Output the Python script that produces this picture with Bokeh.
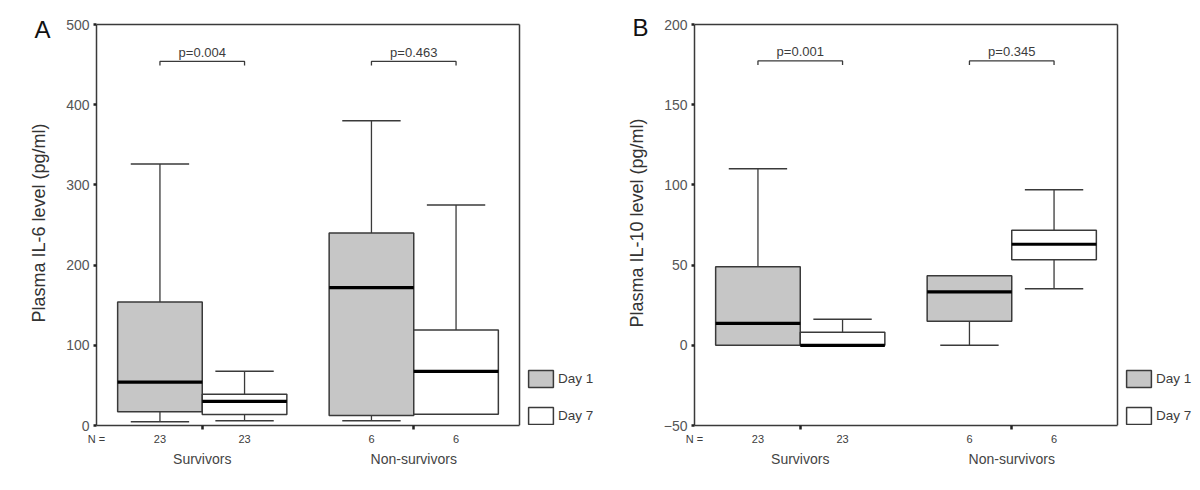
from bokeh.plotting import figure
from bokeh.layouts import row
from bokeh.models import Range1d, FixedTicker, Legend, LegendItem, LinearAxis
from bokeh.core.properties import value
from bokeh.embed import file_html
from bokeh.resources import INLINE

# ---------------- data ----------------
groups = ["Survivors", "Non-survivors"]
days = ["Day 1", "Day 7"]
n_day1 = [23, 6]
n_day7 = [23, 6]

# Panel A: Plasma IL-6 (pg/ml)  [Survivors, Non-survivors]
il6_d1_min = [4.6, 5.8]
il6_d1_q1 = [17, 12.4]
il6_d1_med = [54, 172]
il6_d1_q3 = [154, 240]
il6_d1_max = [326, 380]

il6_d7_min = [5.8, 14]
il6_d7_q1 = [13.7, 14]
il6_d7_med = [30, 67.5]
il6_d7_q3 = [39, 119]
il6_d7_max = [67.5, 275]

il6_pvalues = ["p=0.004", "p=0.463"]
il6_ticks = [0, 100, 200, 300, 400, 500]

# Panel B: Plasma IL-10 (pg/ml)
il10_d1_min = [0, 0]
il10_d1_q1 = [0, 15]
il10_d1_med = [13.7, 33.3]
il10_d1_q3 = [49, 43.3]
il10_d1_max = [110, 43.3]

il10_d7_min = [0, 35.2]
il10_d7_q1 = [0, 53.4]
il10_d7_med = [0, 63]
il10_d7_q3 = [8.1, 71.7]
il10_d7_max = [16.2, 97]

il10_pvalues = ["p=0.001", "p=0.345"]
il10_ticks = [-50, 0, 50, 100, 150, 200]

# ---------------- style ----------------
FONT = "Liberation Sans"
TEXT = "#3c3c3c"
LINE = "#3a3a3a"
GRAY = "#c6c6c6"
H = 480
BOX_W = 423.0     # px width of the boxed plot area
BOX_TOP = 24      # px
BOX_BOTTOM = 425  # px
HEAD = 4.0        # px of headroom above the box so its top line is not clipped


def panel(letter, title_standoff, letter_offset, ylabel, yr, yticks, d1, d7, pvals, bracket_y,
          width, bl, n1, n7):
    box_h = BOX_BOTTOM - BOX_TOP
    ypu = box_h / float(yr[1] - yr[0])
    xpu = BOX_W / 5.0
    x_end = (width - bl) / xpu
    bt = int(round(BOX_TOP - HEAD))
    bb = H - BOX_BOTTOM
    p = figure(width=width, height=H, x_range=Range1d(0, x_end),
               y_range=Range1d(yr[0], yr[1] + HEAD / ypu),
               output_backend="svg", toolbar_location=None,
               min_border_left=bl, min_border_right=0, min_border_top=bt, min_border_bottom=bb)

    p.xgrid.visible = False
    p.ygrid.visible = False
    p.outline_line_color = None
    p.background_fill_color = "white"
    p.border_fill_color = "white"

    # box frame (top and right edges)
    p.segment(x0=[0, 5], y0=[yr[1], yr[0]], x1=[5, 5], y1=[yr[1], yr[1]],
              line_color=LINE, line_width=1.5)

    # box positions from categories
    centers = [gi * 2.5 + 1.25 for gi in range(len(groups))]
    pos1 = [c - 0.5 for c in centers]
    pos7 = [c + 0.5 for c in centers]

    renderers = {}
    for pos, (mn, q1, med, q3, mx), fill, key in [(pos1, d1, GRAY, "d1"), (pos7, d7, "white", "d7")]:
        p.segment(x0=pos, y0=q3, x1=pos, y1=mx, line_color=LINE, line_width=1.3)
        p.segment(x0=pos, y0=q1, x1=pos, y1=mn, line_color=LINE, line_width=1.3)
        cap = 0.345
        p.segment(x0=[x - cap for x in pos], y0=mx, x1=[x + cap for x in pos], y1=mx,
                  line_color=LINE, line_width=1.5)
        p.segment(x0=[x - cap for x in pos], y0=mn, x1=[x + cap for x in pos], y1=mn,
                  line_color=LINE, line_width=1.5)
        r = p.vbar(x=pos, width=1.0, bottom=q1, top=q3, fill_color=fill,
                   line_color=LINE, line_width=1.5)
        renderers[key] = r
        p.segment(x0=[x - 0.5 for x in pos], y0=med, x1=[x + 0.5 for x in pos], y1=med,
                  line_color="black", line_width=3.2)

    # p-value brackets
    d = 4.0 / ypu
    xs = [[a, a, b, b] for a, b in zip(pos1, pos7)]
    ys = [[bracket_y - d, bracket_y, bracket_y, bracket_y - d] for _ in centers]
    p.multi_line(xs=xs, ys=ys, line_color=LINE, line_width=1.3)
    p.text(x=centers, y=[bracket_y + 9.0 / ypu] * len(centers), text=pvals,
           text_align="center", text_baseline="middle", text_font_size="13px",
           text_color=TEXT, text_font=value(FONT))

    # y axis
    yax = p.yaxis[0]
    yax.ticker = FixedTicker(ticks=yticks)
    yax.bounds = (yr[0], yr[1])
    yax.axis_line_color = LINE
    yax.axis_line_width = 1.5
    yax.major_tick_out = 3
    yax.major_tick_in = 0
    yax.major_tick_line_width = 2.5
    yax.major_tick_line_color = "#222"
    yax.minor_tick_out = 0
    yax.minor_tick_in = 0
    yax.major_label_standoff = 4
    yax.major_label_text_font = FONT
    yax.major_label_text_font_size = "14px"
    yax.major_label_text_color = "#555555"
    yax.axis_label = ylabel
    yax.axis_label_text_font = FONT
    yax.axis_label_text_font_size = "18px"
    yax.axis_label_text_font_style = "normal"
    yax.axis_label_text_color = "#333333"
    yax.axis_label_standoff = 14

    # x axis 1: N counts (major ticks, hidden marks) + group dividers (minor ticks)
    all_pos = [0] + pos1 + pos7
    all_lab = ["N ="] + [str(n) for n in n1] + [str(n) for n in n7]
    xax = p.xaxis[0]
    xax.ticker = FixedTicker(ticks=all_pos, minor_ticks=centers)
    xax.bounds = (0, 5)
    xax.major_label_overrides = {x: t for x, t in zip(all_pos, all_lab)}
    xax.axis_line_color = LINE
    xax.axis_line_width = 1.5
    xax.major_tick_out = 0
    xax.major_tick_in = 0
    xax.minor_tick_out = 4
    xax.minor_tick_in = 0
    xax.minor_tick_line_width = 2.5
    xax.minor_tick_line_color = "#222"
    xax.major_label_standoff = 3
    xax.major_label_text_font = FONT
    xax.major_label_text_font_size = "11px"
    xax.major_label_text_color = TEXT

    # x axis 2: group names
    gax = LinearAxis(ticker=FixedTicker(ticks=centers),
                     major_label_overrides={c: g for c, g in zip(centers, groups)})
    gax.axis_line_color = None
    gax.major_tick_out = 0
    gax.major_tick_in = 0
    gax.minor_tick_out = 0
    gax.minor_tick_in = 0
    gax.major_label_standoff = 3
    gax.major_label_text_font = FONT
    gax.major_label_text_font_size = "14px"
    gax.major_label_text_color = "#444444"
    p.add_layout(gax, "below")

    # panel letter (title, shifted to the left of the frame)
    p.title.text = letter
    p.title.align = "left"
    p.title.offset = letter_offset
    p.title.standoff = title_standoff
    p.title.text_font = FONT
    p.title.text_font_size = "24px"
    p.title.text_font_style = "normal"
    p.title.text_color = "#111111"

    # legend to the right of the box
    legend = Legend(items=[LegendItem(label=days[0], renderers=[renderers["d1"]]),
                           LegendItem(label=days[1], renderers=[renderers["d7"]])],
                    location=(BOX_W + 6, -1), glyph_width=31, glyph_height=21, label_height=21,
                    spacing=16, padding=0, margin=0, border_line_color=None,
                    background_fill_alpha=0, label_standoff=2,
                    label_text_font=FONT, label_text_font_size="13.5px", label_text_color=TEXT)
    p.add_layout(legend)
    return p


pA = panel("A", -44, -62, "Plasma IL-6 level (pg/ml)", (0, 500), il6_ticks,
           (il6_d1_min, il6_d1_q1, il6_d1_med, il6_d1_q3, il6_d1_max),
           (il6_d7_min, il6_d7_q1, il6_d7_med, il6_d7_q3, il6_d7_max),
           il6_pvalues, 454, 598, 96, n_day1, n_day7)
pB = panel("B", -40, -62, "Plasma IL-10 level (pg/ml)", (-50, 200), il10_ticks,
           (il10_d1_min, il10_d1_q1, il10_d1_med, il10_d1_q3, il10_d1_max),
           (il10_d7_min, il10_d7_q1, il10_d7_med, il10_d7_q3, il10_d7_max),
           il10_pvalues, 177.3, 594, 96, n_day1, n_day7)

layout = row(pA, pB)
open("out.html", "w").write(file_html(layout, INLINE))
